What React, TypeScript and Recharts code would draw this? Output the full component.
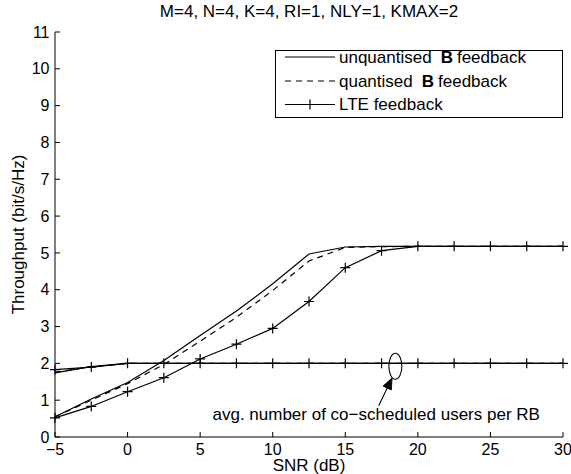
import React from 'react';
import { LineChart, Line, XAxis, YAxis, Legend, ReferenceDot, ReferenceLine } from 'recharts';

const snr = [-5, -2.5, 0, 2.5, 5, 7.5, 10, 12.5, 15, 17.5, 20, 22.5, 25, 27.5, 30];
const unquantisedThroughput = [0.55, 1.03, 1.48, 2.08, 2.76, 3.42, 4.16, 4.97, 5.16, 5.18, 5.18, 5.18, 5.18, 5.18, 5.18];
const quantisedThroughput = [0.55, 1.0, 1.45, 1.97, 2.6, 3.25, 3.98, 4.78, 5.15, 5.17, 5.18, 5.18, 5.18, 5.18, 5.18];
const lteThroughput = [0.52, 0.83, 1.23, 1.61, 2.12, 2.52, 2.95, 3.68, 4.6, 5.06, 5.18, 5.18, 5.18, 5.18, 5.18];
const unquantisedUsers = [1.74, 1.91, 2, 2, 2, 2, 2, 2, 2, 2, 2, 2, 2, 2, 2];
const quantisedUsers = [1.76, 1.91, 2, 2, 2, 2, 2, 2, 2, 2, 2, 2, 2, 2, 2];
const lteUsers = [1.83, 1.9, 2, 2, 2, 2, 2, 2, 2, 2, 2, 2, 2, 2, 2];

const xTicks = [-5, 0, 5, 10, 15, 20, 25, 30];
const yTicks = [0, 1, 2, 3, 4, 5, 6, 7, 8, 9, 10, 11];

const title = 'M=4, N=4, K=4, RI=1, NLY=1, KMAX=2';
const xLabel = 'SNR (dB)';
const yLabel = 'Throughput (bit/s/Hz)';
const annotation = 'avg. number of co\u2212scheduled users per RB';
const legendNames = ['unquantised', 'quantised', 'LTE feedback'];

const data = snr.map((s, i) => ({
  snr: s,
  uThr: unquantisedThroughput[i],
  qThr: quantisedThroughput[i],
  lThr: lteThroughput[i],
  uUsr: unquantisedUsers[i],
  qUsr: quantisedUsers[i],
  lUsr: lteUsers[i],
}));

const FONT = '"Liberation Sans", Arial, Helvetica, sans-serif';
const DASH = '6 5';

const fmtX = (v: number) => (v < 0 ? '\u2212' + Math.abs(v) : String(v));

const plusDot = (p: any) => {
  const { cx, cy, index } = p;
  if (cx == null || cy == null) return <g key={index} />;
  return (
    <path
      key={index}
      d={`M${cx - 5},${cy}H${cx + 5}M${cx},${cy - 5}V${cy + 5}`}
      stroke="#000"
      strokeWidth={1.2}
      fill="none"
    />
  );
};

const LegendBox = () => (
  <svg width={288} height={68} style={{ display: 'block', overflow: 'visible' }}>
    <rect x={0.5} y={0.5} width={287} height={67} fill="#fff" stroke="#000" strokeWidth={1} />
    <line x1={10} x2={60} y1={7} y2={7} stroke="#000" strokeWidth={1.2} />
    <text x={64} y={12.5} fontSize={17} fontFamily={FONT} fill="#000">
      {legendNames[0]}
      <tspan dx={9} fontWeight="bold">B</tspan>
      <tspan dx={4}>feedback</tspan>
    </text>
    <line x1={10} x2={60} y1={31} y2={31} stroke="#000" strokeWidth={1.2} strokeDasharray={DASH} />
    <text x={64} y={36.5} fontSize={17} fontFamily={FONT} fill="#000">
      {legendNames[1]}
      <tspan dx={9} fontWeight="bold">B</tspan>
      <tspan dx={4}>feedback</tspan>
    </text>
    <line x1={10} x2={60} y1={54.5} y2={54.5} stroke="#000" strokeWidth={1.2} />
    <path d="M30,54.5H40M35,49.5V59.5" stroke="#000" strokeWidth={1.2} fill="none" />
    <text x={64} y={60} fontSize={17} fontFamily={FONT} fill="#000">
      {legendNames[2]}
    </text>
  </svg>
);

const ArrowShape = (p: any) => {
  const { x1, y1, x2, y2 } = p;
  if ([x1, y1, x2, y2].some((v) => v == null)) return <g />;
  const dx = x2 - x1;
  const dy = y2 - y1;
  const len = Math.sqrt(dx * dx + dy * dy);
  const ux = dx / len;
  const uy = dy / len;
  const hl = 11;
  const hw = 4.5;
  const bx = x2 - ux * hl;
  const by = y2 - uy * hl;
  const px = -uy;
  const py = ux;
  return (
    <g>
      <line x1={x1} y1={y1} x2={bx} y2={by} stroke="#000" strokeWidth={1.1} />
      <path
        d={`M${x2},${y2}L${bx + px * hw},${by + py * hw}L${bx - px * hw},${by - py * hw}Z`}
        fill="#000"
        stroke="#000"
        strokeWidth={1}
      />
    </g>
  );
};

const tickStyle = { fontSize: 16, fill: '#000', fontFamily: FONT };

export default function App() {
  return (
    <div style={{ position: 'absolute', left: 0, top: 0, width: 571, height: 474, background: '#fff' }}>
      <div
        style={{
          position: 'absolute',
          left: 55,
          width: 508,
          top: 2,
          textAlign: 'center',
          fontFamily: FONT,
          fontSize: 17,
          lineHeight: '20px',
          color: '#000',
          whiteSpace: 'nowrap',
        }}
      >
        {title}
      </div>
      <LineChart
        width={571}
        height={474}
        data={data}
        margin={{ top: 32, right: 8, bottom: 0, left: 0 }}
        style={{ fontFamily: FONT }}
      >
        <XAxis
          dataKey="snr"
          type="number"
          domain={[-5, 30]}
          ticks={xTicks}
          tickFormatter={fmtX}
          height={37}
          tickSize={-5}
          tickMargin={11.5}
          tick={tickStyle}
          axisLine={{ stroke: '#000', strokeWidth: 1 }}
          tickLine={{ stroke: '#000', strokeWidth: 1 }}
          interval={0}
          label={{ value: xLabel, position: 'insideBottom', offset: 3, fill: '#000', fontSize: 17, fontFamily: FONT }}
        />
        <XAxis
          xAxisId="top"
          orientation="top"
          dataKey="snr"
          type="number"
          domain={[-5, 30]}
          ticks={xTicks}
          height={0}
          tickSize={-5}
          tick={false}
          axisLine={{ stroke: '#000', strokeWidth: 1 }}
          tickLine={{ stroke: '#000', strokeWidth: 1 }}
          interval={0}
        />
        <YAxis
          type="number"
          domain={[0, 11]}
          ticks={yTicks}
          width={55}
          tickSize={-5}
          tickMargin={10.5}
          tick={tickStyle}
          axisLine={{ stroke: '#000', strokeWidth: 1 }}
          tickLine={{ stroke: '#000', strokeWidth: 1 }}
          interval={0}
          label={{ value: yLabel, angle: -90, position: 'insideLeft', offset: 18, fill: '#000', fontSize: 17, fontFamily: FONT, style: { textAnchor: 'middle' } }}
        />
        <YAxis
          yAxisId="right"
          orientation="right"
          type="number"
          domain={[0, 11]}
          ticks={yTicks}
          width={0}
          tickSize={-5}
          tick={false}
          axisLine={{ stroke: '#000', strokeWidth: 1 }}
          tickLine={{ stroke: '#000', strokeWidth: 1 }}
          interval={0}
        />
        <Line dataKey="uThr" stroke="#000" strokeWidth={1.2} dot={false} isAnimationActive={false} type="linear" />
        <Line dataKey="qThr" stroke="#000" strokeWidth={1.2} strokeDasharray={DASH} dot={false} isAnimationActive={false} type="linear" />
        <Line dataKey="lThr" stroke="#000" strokeWidth={1.2} dot={plusDot} activeDot={false} isAnimationActive={false} type="linear" />
        <Line dataKey="uUsr" stroke="#000" strokeWidth={1.2} dot={false} isAnimationActive={false} type="linear" />
        <Line dataKey="qUsr" stroke="#000" strokeWidth={1.2} strokeDasharray={DASH} dot={false} isAnimationActive={false} type="linear" />
        <Line dataKey="lUsr" stroke="#000" strokeWidth={1.2} dot={plusDot} activeDot={false} isAnimationActive={false} type="linear" />
        <ReferenceDot
          x={18.45}
          y={1.92}
          r={0}
          shape={(p: any) => (
            <ellipse cx={p.cx} cy={p.cy} rx={6.5} ry={13} fill="none" stroke="#000" strokeWidth={1.1} />
          )}
        />
        <ReferenceLine
          segment={[{ x: 17.3, y: 0.85 }, { x: 18.22, y: 1.6 }]}
          shape={ArrowShape}
        />
        <ReferenceDot
          x={5.85}
          y={0.45}
          r={0}
          shape={(p: any) => (
            <text x={p.cx} y={p.cy} fontSize={17} fontFamily={FONT} fill="#000">
              {annotation}
            </text>
          )}
        />
        <Legend
          layout="vertical"
          align="center"
          verticalAlign="middle"
          content={() => <LegendBox />}
          wrapperStyle={{ position: 'absolute', left: 275, top: 50, width: 288, height: 68, overflow: 'visible' }}
        />
      </LineChart>
    </div>
  );
}
